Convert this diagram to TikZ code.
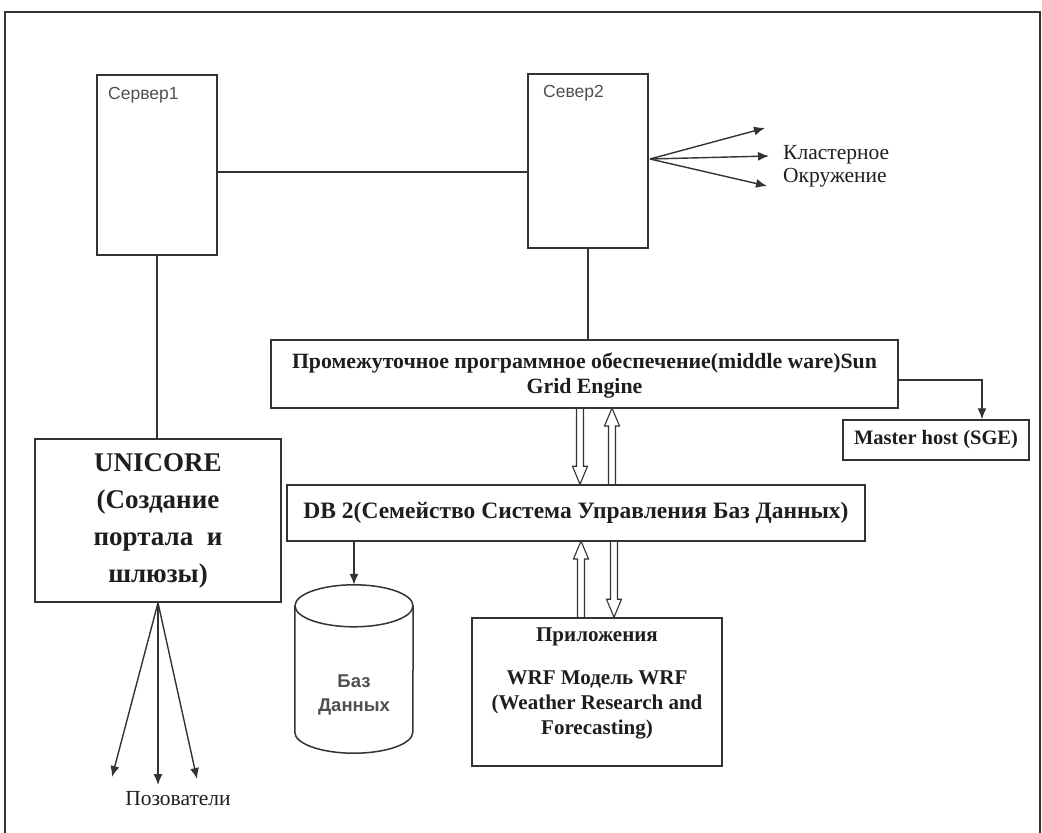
\documentclass[tikz,border=0pt]{standalone}
\usepackage{fontspec}
\setmainfont{Liberation Serif}
\setsansfont{Liberation Sans}
\usetikzlibrary{arrows.meta,calc}
\definecolor{linec}{HTML}{333333}
\definecolor{txtc}{HTML}{1E1E1E}
\definecolor{sanstxt}{HTML}{505050}
\newcommand\hollowarrow[2]{%
  \draw[harrow] let \p1=(#1), \p2=(#2), \n1={sign(\y2-\y1)} in
    (\x1-3.5pt,\y1) -- (\x2-3.5pt,\y2-\n1*18pt) -- (\x2-7.5pt,\y2-\n1*18pt) -- (\x2,\y2)
    -- (\x2+7.5pt,\y2-\n1*18pt) -- (\x2+3.5pt,\y2-\n1*18pt) -- (\x1+3.5pt,\y1);}
\begin{document}
\begin{tikzpicture}[x=1pt,y=-1pt,
  box/.style={draw=linec, line width=1.5pt, inner sep=0pt, fill=white},
  conn/.style={draw=linec, line width=1.4pt},
  arr/.style={conn, -{Latex[length=11pt,width=9pt]}},
  harrow/.style={draw=linec, line width=1.1pt, line join=miter},
  boldtxt/.style={text=txtc, font=\bfseries\fontsize{21}{25}\selectfont, align=center, inner sep=0pt},
  plaintxt/.style={text=txtc, font=\fontsize{21.5}{23}\selectfont, inner sep=0pt},
  srvtxt/.style={text=sanstxt, font=\sffamily\fontsize{17.5}{20}\selectfont, inner sep=0pt, anchor=west}]
\useasboundingbox (0,0) rectangle (1042,833);
\draw[linec, line width=1.6pt] (5,833) -- (5,12) -- (1040,12) -- (1040,833);

% servers
\node[box, minimum width=120pt, minimum height=180pt] (s1) at (157,165) {};
\node[srvtxt] (s1t) at (108,95) {Сервер1};
\node[box, minimum width=120pt, minimum height=174pt] (s2) at (588,161) {};
\node[srvtxt] (s2t) at (543,93) {Севеp2};
\draw[conn] ([yshift=-7pt]s1.east) -- ([yshift=-11pt]s2.west);

% cluster arrows
\coordinate (cs) at (650,159);
\coordinate (c1) at (765,128);
\coordinate (c2) at (769,156);
\coordinate (c3) at (767,186);
\draw[arr] (cs) -- (c1);
\draw[arr] (cs) -- (c2);
\draw[arr] (cs) -- (c3);
\node[plaintxt, anchor=west, align=left] (cl) at (783,166) {Кластерное\\Окружение};

% middleware
\node[box, minimum width=627pt, minimum height=68pt] (mw) at (584.5,374) {};
\node[boldtxt, font=\bfseries\fontsize{21.8}{25}\selectfont] (mwt) at ([yshift=-2pt]mw.center) {Промежуточное программное обеспечение(middle ware)Sun\\Grid Engine};
\draw[conn] (s2.south) -- (s2.south |- mw.north);

% master host
\node[box, minimum width=186pt, minimum height=40pt] (mh) at (936,440) {};
\node[boldtxt, font=\bfseries\fontsize{20.5}{25}\selectfont] (mht) at (mh.center) {Master host (SGE)};
\draw[arr] ([yshift=-6pt]mw.east) -| ([xshift=46pt]mh.north);

% DB2
\node[box, minimum width=578pt, minimum height=56pt] (db) at (576,513) {};
\node[boldtxt, font=\bfseries\fontsize{23.5}{25}\selectfont] (dbt) at (db.center) {DB 2(Семейство Система Управления Баз Данных)};
\coordinate (h1) at (580,408);
\coordinate (h2) at (612,408);
\hollowarrow{h1}{h1 |- db.north}
\hollowarrow{h2 |- db.north}{h2}

% WRF
\node[box, minimum width=250pt, minimum height=148pt] (wrf) at (597,692) {};
\node[boldtxt] (wrft) at ([yshift=9pt]wrf.center) {Приложения\\[18pt]WRF Модель WRF\\(Weather Research and\\Forecasting)};
\coordinate (h3) at (581,541);
\coordinate (h4) at (614,541);
\hollowarrow{h3 |- wrf.north}{h3}
\hollowarrow{h4}{h4 |- wrf.north}

% cylinder
\node[minimum width=118pt, minimum height=168pt, inner sep=0pt] (cyl) at (354,669) {};
\draw[linec, line width=1.5pt] ([yshift=-21pt]cyl.north west) -- ([yshift=21pt]cyl.south west)
  arc[start angle=180, end angle=360, x radius=59pt, y radius=21pt] -- ([yshift=-21pt]cyl.north east);
\draw[linec, line width=1.5pt] ([yshift=-21pt]cyl.north) ellipse[x radius=59pt, y radius=21pt];
\node[text=sanstxt, font=\sffamily\bfseries\fontsize{18.5}{24}\selectfont, align=center, inner sep=0pt] (cylt) at (354,695) {Баз\\Данных};
\draw[arr] (cyl.north |- db.south) -- (cyl.north);

% UNICORE
\node[box, minimum width=246pt, minimum height=163pt] (uni) at (158,520.5) {};
\node[boldtxt, font=\bfseries\fontsize{27}{37}\selectfont] (unit) at (uni.center) {UNICORE\\(Создание\\портала\ \ и\\шлюзы)};
\draw[conn] (s1.south |- uni.north) -- (s1.south);

% users
\coordinate (u1) at (112,777);
\coordinate (u2) at (158,785);
\coordinate (u3) at (197,779);
\draw[arr] (uni.south) -- (u1);
\draw[arr] (uni.south) -- (u2);
\draw[arr] (uni.south) -- (u3);
\node[plaintxt] (ut) at (178,799) {Позователи};
\end{tikzpicture}
\end{document}
